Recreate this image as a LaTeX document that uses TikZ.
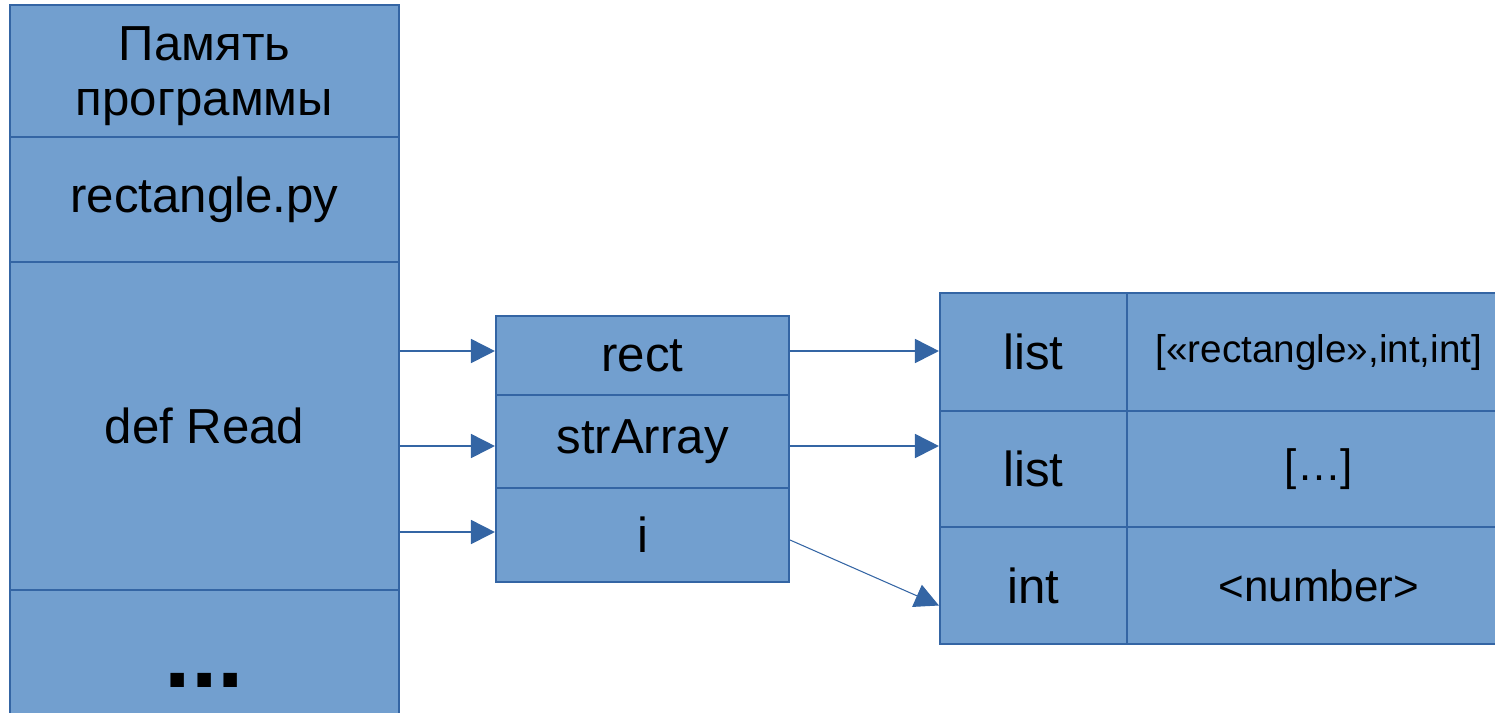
\documentclass[tikz,border=0pt]{standalone}
\usepackage{fontspec}
\setmainfont{Liberation Sans}
\usetikzlibrary{arrows.meta}
\definecolor{cellfill}{HTML}{729FCF}
\definecolor{celledge}{HTML}{3465A4}

\begin{document}
\begin{tikzpicture}[
        cell/.style={draw=celledge, fill=cellfill, line width=0.6pt, inner sep=0pt,
          align=center, font=\fontsize{14}{15.6}\selectfont},
        ptr/.style={draw=celledge, line width=0.5pt, -{Triangle[length=0.24cm,width=0.24cm]}}
      ]
        \useasboundingbox (0,0) rectangle (14.95,-7.12);
        \clip (0,0) rectangle (14.95,-7.12);
        % program memory
        \node[cell, minimum width=3.89cm, minimum height=1.32cm] (mem) at (2.045,-0.71) {\rule{0pt}{0.45cm}Память\\программы};
        \node[cell, minimum width=3.89cm, minimum height=1.25cm] (file) at (2.045,-1.995) {rectangle.py};
        \node[cell, minimum width=3.89cm, minimum height=3.28cm] (read) at (2.045,-4.26) {def Read};
        \node[cell, minimum width=3.89cm, minimum height=1.80cm,
          font=\fontsize{27}{30}\selectfont\bfseries] (more) at (2.045,-6.80) {...};
        % local names
        \node[cell, minimum width=2.93cm, minimum height=0.79cm] (rect) at (6.425,-3.555) {rect};
        \node[cell, minimum width=2.93cm, minimum height=0.93cm] (strarr) at (6.425,-4.415) {strArray};
        \node[cell, minimum width=2.93cm, minimum height=0.94cm] (ivar) at (6.425,-5.35) {i};
        % objects
        \node[cell, minimum width=1.87cm, minimum height=1.18cm] (type1) at (10.335,-3.52) {list};
        \node[cell, minimum width=3.84cm, minimum height=1.18cm,
          font=\fontsize{11}{13}\selectfont] (val1) at (13.19,-3.52) {[«rectangle»,int,int]};
        \node[cell, minimum width=1.87cm, minimum height=1.16cm] (type2) at (10.335,-4.69) {list};
        \node[cell, minimum width=3.84cm, minimum height=1.16cm,
          font=\fontsize{12.5}{14}\selectfont] (val2) at (13.19,-4.69) {[…]};
        \node[cell, minimum width=1.87cm, minimum height=1.17cm] (type3) at (10.335,-5.855) {int};
        \node[cell, minimum width=3.84cm, minimum height=1.17cm,
          font=\fontsize{12.5}{14}\selectfont] (val3) at (13.19,-5.855) {<number>};
        % references
        \coordinate (inrect) at ([yshift=0.045cm]rect.west);
        \coordinate (instr) at ([yshift=-0.045cm]strarr.west);
        \coordinate (ini) at ([yshift=0.03cm]ivar.west);
        \draw[ptr] (read.east |- inrect) -- (inrect);
        \draw[ptr] (read.east |- instr) -- (instr);
        \draw[ptr] (read.east |- ini) -- (ini);
        \draw[ptr] ([yshift=0.045cm]rect.east) -- ([yshift=0.045cm]rect.east -| type1.west);
        \draw[ptr] ([yshift=-0.045cm]strarr.east) -- ([yshift=-0.045cm]strarr.east -| type2.west);
        \draw[ptr, line width=0.3pt] ([yshift=-0.05cm]ivar.east) -- ([yshift=-0.2cm]type3.west);
      \end{tikzpicture}
\end{document}
